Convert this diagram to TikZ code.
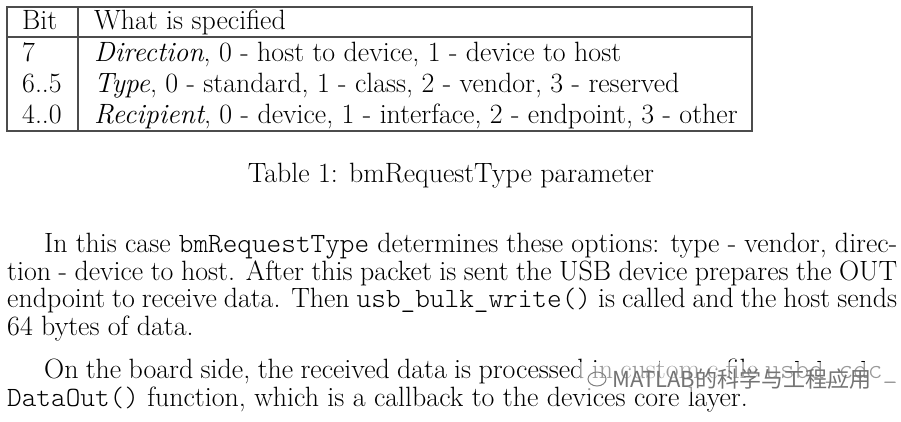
\documentclass[tikz,border=0pt]{standalone}
\usepackage{fontspec}
\setmainfont{Latin Modern Roman}
\setmonofont{Latin Modern Mono Light}
\newfontfamily\cjk{Noto Sans CJK SC}
\begin{document}
\begin{tikzpicture}[x=1pt,y=-1pt,
  txt/.style={anchor=base west,inner sep=0pt,font=\fontsize{27.9}{30}\selectfont},
  rule/.style={draw=black!70,line width=1.1pt}]
\useasboundingbox (0,0) rectangle (901,421);
\fill[white] (0,0) rectangle (901,421);
% table
\draw[rule] (7,7) rectangle (752,131);
\draw[rule] (7,37) -- (752,37);
\draw[rule] (78,7) -- (78,131);
\node[txt] (h1) at (22,29) {Bit};
\node[txt] (h2) at (94,29) {What is specified};
\node[txt] (r1a) at (22,61) {7};
\node[txt] (r1b) at (94,61) {\textit{Direction}, 0 - host to device, 1 - device to host};
\node[txt] (r2a) at (22,92) {6..5};
\node[txt] (r2b) at (94,92) {\textit{Type}, 0 - standard, 1 - class, 2 - vendor, 3 - reserved};
\node[txt] (r3a) at (22,123) {4..0};
\node[txt] (r3b) at (94,123) {\textit{Recipient}, 0 - device, 1 - interface, 2 - endpoint, 3 - other};
\node[txt,anchor=base] (cap) at (451,182) {Table 1: bmRequestType parameter};
% paragraph
\node[txt] (p1) at (44,252) {\makebox[853pt][s]{In this case \texttt{bmRequestType} determines these options: type - vendor, direc-}};
\node[txt] (p2) at (7,280) {\makebox[890pt][s]{tion - device to host. After this packet is sent the USB device prepares the OUT}};
\node[txt] (p3) at (7,307) {\makebox[890pt][s]{endpoint to receive data. Then \texttt{usb\_bulk\_write()} is called and the host sends}};
\node[txt] (p4) at (7,335) {64 bytes of data.};
\node[txt] (p5) at (44,378) {\makebox[853pt][s]{On the board side, the received data is processed in custom.c file \texttt{usbd\_cdc\_}}};
\node[txt] (p6) at (7,406) {\texttt{DataOut()} function, which is a callback to the devices core layer.};
% watermark
\fill[white,opacity=0.6] (580,362) rectangle (895,392);
\node[anchor=base west,inner sep=0pt,text=black!55,font=\cjk\fontsize{22}{24}\selectfont] (wm) at (612,387) {MATLAB的科学与工程应用};
\draw[black!50,line width=1pt] (597,379) circle (9pt and 7pt);
\end{tikzpicture}
\end{document}
